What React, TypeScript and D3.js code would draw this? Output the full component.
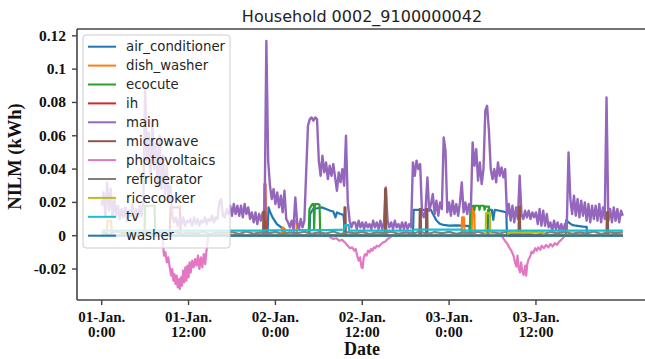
import React from "react";
import * as d3 from "d3";

// ---- data (kWh), hours from 01-Jan 0:00 ----
const SERIES_NAMES = [
  "air_conditioner", "dish_washer", "ecocute", "ih", "main", "microwave",
  "photovoltaics", "refrigerator", "ricecooker", "tv", "washer",
];
const SERIES_COLORS = [
  "#1f77b4", "#ff7f0e", "#2ca02c", "#d62728", "#9467bd", "#8c564b",
  "#e377c2", "#7f7f7f", "#bcbd22", "#17becf", "#1f77b4",
];

// main meter, sampled every 15 minutes
const MAIN_STEP_HOURS = 0.25;
const MAIN = [
  0.018, 0.026, 0.012, 0.032, 0.015, 0.028, 0.011, 0.022,
  0.012, 0.018, 0.010, 0.016, 0.011, 0.017, 0.009, 0.015,
  0.012, 0.019, 0.010, 0.016, 0.011, 0.018, 0.012, 0.020,
  0.088, 0.045, 0.062, 0.035, 0.068, 0.040, 0.055, 0.030,
  0.060, 0.028, 0.048, 0.025, 0.042, 0.020, 0.030, 0.012,
  0.008, 0.011, 0.006, 0.010, 0.007, 0.011, 0.006, 0.009,
  0.008, 0.010, 0.006, 0.011, 0.007, 0.010, 0.006, 0.009,
  0.008, 0.011, 0.007, 0.010, 0.009, 0.012, 0.008, 0.011,
  0.010, 0.020, 0.022, 0.012, 0.011, 0.016, 0.013, 0.018,
  0.012, 0.019, 0.013, 0.018, 0.012, 0.018, 0.011, 0.019,
  0.013, 0.017, 0.010, 0.014, 0.008, 0.014, 0.007, 0.013,
  0.009, 0.014, 0.010, 0.117, 0.045, 0.030, 0.022, 0.028,
  0.019, 0.026, 0.017, 0.024, 0.014, 0.027, 0.010, 0.008,
  0.005, 0.009, 0.004, 0.023, 0.008, 0.004, 0.010, 0.005,
  0.009, 0.038, 0.066, 0.070, 0.071, 0.069, 0.071, 0.070,
  0.045, 0.036, 0.048, 0.038, 0.044, 0.034, 0.042, 0.036,
  0.043, 0.035, 0.027, 0.038, 0.032, 0.040, 0.030, 0.060,
  0.020, 0.009, 0.005, 0.008, 0.008, 0.004, 0.009, 0.005,
  0.008, 0.004, 0.008, 0.005, 0.007, 0.004, 0.009, 0.005,
  0.008, 0.004, 0.009, 0.004, 0.008, 0.029, 0.009, 0.005,
  0.008, 0.004, 0.009, 0.005, 0.007, 0.004, 0.008, 0.004,
  0.008, 0.004, 0.007, 0.005, 0.044, 0.036, 0.045, 0.040,
  0.043, 0.014, 0.011, 0.016, 0.035, 0.015, 0.019, 0.025,
  0.013, 0.021, 0.012, 0.020, 0.016, 0.059, 0.051, 0.014,
  0.020, 0.012, 0.021, 0.013, 0.019, 0.012, 0.020, 0.032,
  0.014, 0.020, 0.013, 0.019, 0.015, 0.056, 0.042, 0.052,
  0.033, 0.044, 0.031, 0.040, 0.075, 0.078, 0.063, 0.040,
  0.034, 0.040, 0.032, 0.044, 0.036, 0.041, 0.035, 0.040,
  0.012, 0.019, 0.009, 0.018, 0.008, 0.017, 0.010, 0.036,
  0.013, 0.010, 0.015, 0.011, 0.015, 0.010, 0.014, 0.011,
  0.014, 0.007, 0.016, 0.006, 0.015, 0.006, 0.013, 0.005,
  0.008, 0.003, 0.009, 0.004, 0.008, 0.003, 0.007, 0.002,
  0.007, 0.004, 0.050, 0.022, 0.013, 0.024, 0.012, 0.022,
  0.011, 0.021, 0.012, 0.020, 0.009, 0.019, 0.008, 0.018,
  0.010, 0.018, 0.009, 0.019, 0.008, 0.017, 0.010, 0.083,
  0.009, 0.016, 0.008, 0.017, 0.009, 0.016, 0.008, 0.015,
  0.012,
];

// appliance readings as [hour, kWh]
const AIR_CONDITIONER: [number, number][] = [
  [0, 0], [22.9, 0], [23.05, 0.017], [23.3, 0.014], [23.6, 0.011], [23.9, 0.009],
  [24.2, 0.007], [24.5, 0.006], [24.8, 0.005], [25.1, 0.004], [25.25, 0],
  [28.7, 0], [28.8, 0.013], [29.2, 0.016], [29.8, 0.0165], [30.4, 0.017], [31.0, 0.016],
  [31.6, 0.015], [32.0, 0.0145], [32.3, 0.011], [32.5, 0.014], [33.0, 0.013],
  [33.4, 0.0125], [33.6, 0.003], [33.7, 0],
  [43.0, 0], [43.1, 0.0155], [45.5, 0.0155], [45.6, 0.0145], [45.9, 0.012],
  [46.2, 0.0095], [46.5, 0.008], [46.8, 0.007], [47.2, 0.0065], [48.0, 0.006],
  [49.0, 0.0062], [50.0, 0.006], [50.8, 0.0058], [50.9, 0],
  [53.3, 0], [53.4, 0.0155], [53.9, 0.0155], [54.1, 0.0095], [54.3, 0.0155],
  [55.0, 0.015], [55.5, 0.0145], [55.9, 0.014], [56.0, 0],
  [64.1, 0], [64.2, 0.0095], [64.5, 0.008], [65.0, 0.0065], [65.5, 0.006],
  [66.0, 0.0058], [66.5, 0.0055], [67.0, 0.0053], [67.1, 0], [72, 0],
];
const DISH_WASHER: [number, number][] = [
  [0, 0], [0.7, 0], [0.8, 0.009], [1.3, 0.009], [1.4, 0],
  [24.9, 0], [25.0, 0.005], [25.3, 0.004], [25.4, 0],
  [26.5, 0], [26.6, 0.0095], [26.9, 0.008], [27.0, 0],
  [49.7, 0], [49.8, 0.011], [50.05, 0.011], [50.15, 0],
  [51.1, 0], [51.2, 0.0165], [51.45, 0.0165], [51.55, 0], [72, 0],
];
const ECOCUTE: [number, number][] = [
  [0, 0], [5.9, 0], [6.0, 0.018], [7.3, 0.018], [7.4, 0],
  [28.6, 0], [28.7, 0.016], [28.9, 0.0175], [29.1, 0.019], [29.3, 0.019],
  [29.35, 0.004], [29.45, 0.019], [29.9, 0.019], [30.1, 0.0185], [30.2, 0],
  [50.85, 0], [50.95, 0.0175], [51.4, 0.018], [51.5, 0.0155], [51.6, 0.018],
  [52.1, 0.018], [52.2, 0.0155], [52.3, 0.018], [52.8, 0.018], [52.9, 0.0155],
  [53.0, 0.0175], [53.5, 0.0175], [53.65, 0], [72, 0],
];
const IH: [number, number][] = [
  [0, 0], [9.4, 0], [9.5, 0.017], [10.8, 0.017], [10.9, 0],
  [22.45, 0], [22.5, 0.031], [22.62, 0.031], [22.68, 0], [72, 0],
];
const MICROWAVE: [number, number][] = [
  [0, 0], [22.3, 0], [22.35, 0.0145], [22.45, 0.0145], [22.5, 0],
  [33.5, 0], [33.55, 0.017], [33.68, 0.017], [33.72, 0],
  [39.1, 0], [39.15, 0.028], [39.28, 0.028], [39.32, 0],
  [43.9, 0], [43.95, 0.016], [44.08, 0.016], [44.12, 0],
  [44.8, 0], [44.85, 0.016], [44.98, 0.016], [45.02, 0],
  [57.6, 0], [57.65, 0.0175], [57.78, 0.0175], [57.82, 0],
  [69.75, 0], [69.8, 0.014], [69.93, 0.014], [69.97, 0], [72, 0],
];
const PHOTOVOLTAICS: [number, number][] = [
  [0, 0], [8.4, 0], [8.5, -0.006], [8.6, -0.012], [8.8, -0.010], [9.0, -0.016],
  [9.2, -0.013], [9.4, -0.019], [9.6, -0.024], [9.75, -0.020], [9.9, -0.027],
  [10.05, -0.023], [10.2, -0.029], [10.35, -0.024], [10.5, -0.031], [10.65, -0.026],
  [10.8, -0.032], [10.95, -0.025], [11.1, -0.030], [11.25, -0.021], [11.4, -0.028],
  [11.55, -0.019], [11.7, -0.027], [11.85, -0.018], [12.0, -0.025], [12.15, -0.016],
  [12.3, -0.022], [12.5, -0.015], [12.7, -0.019], [12.9, -0.014], [13.1, -0.018],
  [13.3, -0.012], [13.5, -0.020], [13.7, -0.013], [13.9, -0.019], [14.1, -0.011],
  [14.3, -0.017], [14.5, -0.008], [14.65, -0.003], [14.75, 0],
  [31.4, 0], [31.6, -0.001], [32.0, -0.002], [32.4, -0.0015], [32.8, -0.003],
  [33.2, -0.0025], [33.6, -0.004], [34.0, -0.006], [34.3, -0.0075], [34.6, -0.007],
  [34.9, -0.009], [35.1, -0.008], [35.3, -0.012], [35.5, -0.015], [35.7, -0.013],
  [35.9, -0.019], [36.05, -0.0195], [36.2, -0.013], [36.4, -0.011], [36.6, -0.012],
  [36.8, -0.009], [37.0, -0.010], [37.2, -0.008], [37.4, -0.009], [37.6, -0.007],
  [37.8, -0.0075], [38.0, -0.006], [38.3, -0.0065], [38.6, -0.005], [38.9, -0.004],
  [39.2, -0.0035], [39.5, -0.002], [39.8, -0.0012], [40.1, 0],
  [55.2, 0], [55.4, -0.001], [55.7, -0.003], [56.0, -0.0045], [56.3, -0.007],
  [56.6, -0.009], [56.9, -0.012], [57.1, -0.016], [57.3, -0.0185], [57.45, -0.012],
  [57.6, -0.019], [57.8, -0.022], [57.95, -0.016], [58.1, -0.021], [58.3, -0.0235],
  [58.5, -0.018], [58.65, -0.024], [58.8, -0.017], [59.0, -0.014], [59.2, -0.0125],
  [59.4, -0.0095], [59.6, -0.0105], [59.9, -0.0075], [60.1, -0.009], [60.3, -0.007],
  [60.6, -0.0085], [60.8, -0.006], [61.1, -0.0075], [61.4, -0.0055], [61.7, -0.007],
  [62.0, -0.005], [62.3, -0.0065], [62.6, -0.0045], [62.9, -0.0055], [63.2, -0.0035],
  [63.5, -0.0025], [63.8, -0.001], [64.0, 0], [72, 0],
];
// refrigerator, hourly
const REFRIGERATOR = [
  0.002, 0.001, 0.0025, 0.0015, 0.002, 0.001, 0.0022, 0.0012, 0.002, 0.0015,
  0.0025, 0.001, 0.002, 0.0013, 0.0024, 0.001, 0.002, 0.0015, 0.0022, 0.001,
  0.0025, 0.0012, 0.002, 0.0014, 0.0023, 0.001, 0.002, 0.0015, 0.0024, 0.0011,
  0.002, 0.0013, 0.0025, 0.001, 0.0021, 0.0014, 0.0023, 0.001, 0.002, 0.0015,
  0.0024, 0.0012, 0.002, 0.0013, 0.0025, 0.001, 0.0022, 0.0015, 0.0023, 0.0011,
  0.002, 0.0014, 0.0024, 0.001, 0.0021, 0.0013, 0.0025, 0.0012, 0.002, 0.0015,
  0.0023, 0.001, 0.0022, 0.0014, 0.0024, 0.0011, 0.002, 0.0013, 0.0025, 0.001,
  0.0021, 0.0015, 0.002,
];
const RICECOOKER: [number, number][] = [
  [0, 0], [53.05, 0], [53.1, 0.0135], [53.65, 0.0135], [53.7, 0],
  [56.1, 0], [56.2, 0.002], [61.0, 0.002], [61.1, 0], [72, 0],
];
const TV: [number, number][] = [
  [0, 0.003], [22.5, 0.003], [22.6, 0.0032], [31.0, 0.0034], [33.5, 0.0036],
  [33.6, 0.0064], [34.1, 0.0064], [34.2, 0.003], [43.0, 0.003], [43.1, 0.0036],
  [49.8, 0.0036], [49.9, 0.003], [72, 0.003],
];
const WASHER: [number, number][] = [[0, 0], [72, 0]];

const X_TICKS = [0, 12, 24, 36, 48, 60];
const X_TICK_DAY = ["01-Jan.", "01-Jan.", "02-Jan.", "02-Jan.", "03-Jan.", "03-Jan."];
const X_TICK_TIME = ["0:00", "12:00", "0:00", "12:00", "0:00", "12:00"];
const Y_TICKS = [-0.02, 0, 0.02, 0.04, 0.06, 0.08, 0.1, 0.12];
const Y_TICK_LABELS = ["-0.02", "0", "0.02", "0.04", "0.06", "0.08", "0.1", "0.12"];

const TITLE = "Household 0002_9100000042";
const X_LABEL = "Date";
const Y_LABEL = "NILM (kWh)";

// ---- layout ----
const W = 645;
const H = 359;
const PLOT = { left: 77, right: 648, top: 29, bottom: 300 };

const x = d3.scaleLinear().domain([-3.413, 75.48]).range([PLOT.left, PLOT.right]);
const y = d3.scaleLinear().domain([-0.0386, 0.1241]).range([PLOT.bottom, PLOT.top]);

const line = d3
  .line<[number, number]>()
  .x((d) => x(d[0]))
  .y((d) => y(d[1]));

const mainPoints: [number, number][] = MAIN.map((v, i) => [i * MAIN_STEP_HOURS, v]);
const fridgePoints: [number, number][] = REFRIGERATOR.map((v, i) => [i, v]);

const SERIES_DATA: [number, number][][] = [
  AIR_CONDITIONER, DISH_WASHER, ECOCUTE, IH, mainPoints, MICROWAVE,
  PHOTOVOLTAICS, fridgePoints, RICECOOKER, TV, WASHER,
];

const serif = "'Liberation Serif', 'Times New Roman', serif";
const sans = "'DejaVu Sans', sans-serif";

export default function App() {
  const legendTop = 46.7;
  const legendStep = 18.9;
  return (
    <svg
      width={W}
      height={H}
      viewBox={`0 0 ${W} ${H}`}
      style={{ position: "absolute", left: 0, top: 0, background: "#fff" }}
    >
      <rect x={0} y={0} width={W} height={H} fill="#fff" />
      <defs>
        <clipPath id="plot-clip">
          <rect x={PLOT.left} y={PLOT.top} width={PLOT.right - PLOT.left} height={PLOT.bottom - PLOT.top} />
        </clipPath>
      </defs>

      <text x={362} y={21.5} textAnchor="middle" fontFamily={sans} fontSize={16} fill="#222">
        {TITLE}
      </text>

      <g clipPath="url(#plot-clip)">
        {SERIES_DATA.map((data, k) => (
          <path
            key={SERIES_NAMES[k]}
            d={line(data) ?? ""}
            fill="none"
            stroke={SERIES_COLORS[k]}
            strokeWidth={SERIES_NAMES[k] === "main" ? 2.4 : 2.2}
            strokeLinejoin="round"
          />
        ))}
      </g>

      {/* spines */}
      <g stroke="#444" strokeWidth={1.6} fill="none">
        <line x1={PLOT.left} x2={PLOT.right} y1={PLOT.top} y2={PLOT.top} />
        <line x1={PLOT.left} x2={PLOT.right} y1={PLOT.bottom} y2={PLOT.bottom} />
        <line x1={PLOT.left} x2={PLOT.left} y1={PLOT.top} y2={PLOT.bottom} />
      </g>

      {/* y axis */}
      {Y_TICKS.map((t, i) => (
        <g key={`y${i}`}>
          <line x1={PLOT.left - 5} x2={PLOT.left} y1={y(t)} y2={y(t)} stroke="#444" strokeWidth={1.4} />
          <text
            x={66}
            y={y(t) + 5}
            textAnchor="end"
            fontFamily={serif}
            fontWeight="bold"
            fontSize={15.5}
            fill="#111"
          >
            {Y_TICK_LABELS[i]}
          </text>
        </g>
      ))}

      {/* x axis */}
      {X_TICKS.map((t, i) => (
        <g key={`x${i}`}>
          <line x1={x(t)} x2={x(t)} y1={PLOT.bottom} y2={PLOT.bottom + 5} stroke="#444" strokeWidth={1.4} />
          <text x={x(t)} y={321.5} textAnchor="middle" fontFamily={serif} fontWeight="bold" fontSize={15} fill="#111">
            {X_TICK_DAY[i]}
          </text>
          <text x={x(t)} y={336.5} textAnchor="middle" fontFamily={serif} fontWeight="bold" fontSize={15} fill="#111">
            {X_TICK_TIME[i]}
          </text>
        </g>
      ))}

      <text x={362} y={355} textAnchor="middle" fontFamily={serif} fontWeight="bold" fontSize={18} fill="#111">
        {X_LABEL}
      </text>
      <text
        transform="translate(21,156.5) rotate(-90)"
        textAnchor="middle"
        fontFamily={serif}
        fontWeight="bold"
        fontSize={18.5}
        fill="#111"
      >
        {Y_LABEL}
      </text>

      {/* legend */}
      <rect x={83} y={35} width={147} height={213} rx={3} fill="#fff" fillOpacity={0.8} stroke="#ccc" strokeWidth={1} />
      {SERIES_NAMES.map((name, k) => (
        <g key={`lg${k}`}>
          <line
            x1={88}
            x2={116}
            y1={legendTop + k * legendStep}
            y2={legendTop + k * legendStep}
            stroke={SERIES_COLORS[k]}
            strokeWidth={2}
          />
          <text x={126} y={legendTop + k * legendStep + 4.6} fontFamily={sans} fontSize={13.3} fill="#262626">
            {name}
          </text>
        </g>
      ))}
    </svg>
  );
}
